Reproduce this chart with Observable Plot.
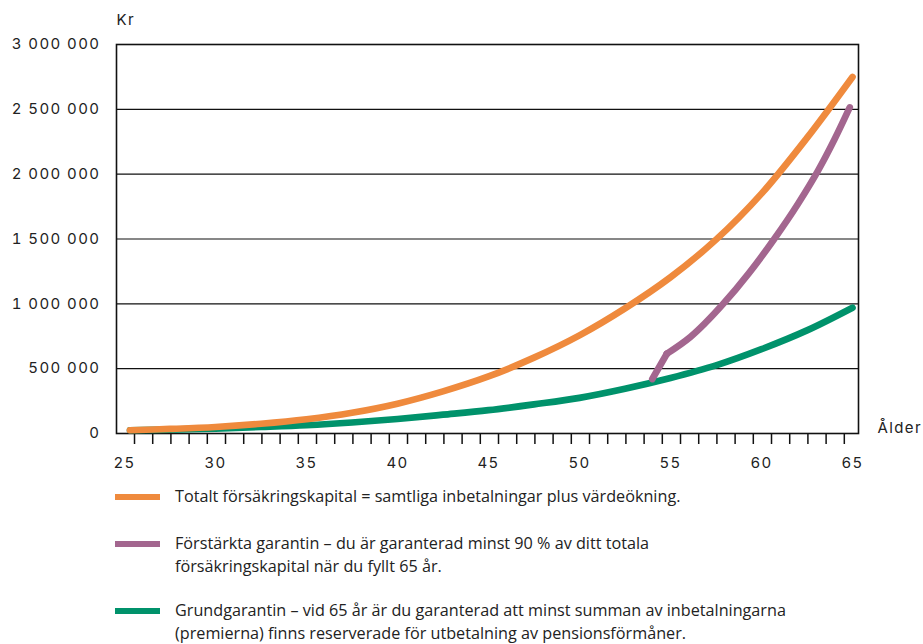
<!DOCTYPE html>
<html><head><meta charset="utf-8">
<script src="https://cdn.jsdelivr.net/npm/d3@7"></script>
<script src="https://cdn.jsdelivr.net/npm/@observablehq/plot@0.6"></script>
<style>
body{margin:0;background:#fff;}
#chart{position:relative;width:923px;}
.legend{font-family:"Open Sans","Noto Sans",sans-serif;font-size:16.2px;color:#222;line-height:23px;margin-top:5px;}
.row{display:flex;align-items:flex-start;}
.sw{width:45px;height:6px;margin:8.5px 15px 0 115px;flex:none;}
.row + .row{margin-top:24px;}
.row.last{margin-top:21px;}
</style></head>
<body><div id="chart"></div>
<script>
const ages = [25.3,27.5,30,32.5,35,37.5,40,42.5,45,47.5,50,52.5,55,57.5,60,62.5,65];
const totalKapital = [25000,35000,50000,75000,110000,160000,230000,325000,440000,585000,757000,965000,1205000,1495000,1850000,2280000,2750000];
const grundGaranti = [25000,30000,38000,50000,64000,85000,112000,145000,180000,225000,275000,345000,428000,525000,650000,795000,970000];
const forstarktAges = [54.0,54.8,56.1,57.9,59.3,60.7,62,63.1,64,64.85];
const forstarktGaranti = [420000,615000,745000,1000000,1235000,1500000,1770000,2025000,2265000,2515000];
const yTicks = [0,500000,1000000,1500000,2000000,2500000,3000000];
const xLabels = [25,30,35,40,45,50,55,60,65];
const xTickMarks = d3.range(25,65).map(a => a + 0.55);
const seriesNames = [
  "Totalt försäkringskapital = samtliga inbetalningar plus värdeökning.",
  "Förstärkta garantin – du är garanterad minst 90 % av ditt totala<br>försäkringskapital när du fyllt 65 år.",
  "Grundgarantin – vid 65 år är du garanterad att minst summan av inbetalningarna<br>(premierna) finns reserverade för utbetalning av pensionsförmåner."
];
const colors = ["#ef8a3d","#a3668f","#00926b"];

const total = ages.map((a,i)=>({age:a, v: totalKapital[i]}));
const grund = ages.map((a,i)=>({age:a, v: grundGaranti[i]}));
const forst = forstarktAges.map((a,i)=>({age:a, v: forstarktGaranti[i]}));
const forstStart = forst.slice(0,2);
const forstRest = forst.slice(1);

const fmt = v => d3.format(",")(v).replace(/,/g," ");

const plot = Plot.plot({
  width: 923, height: 480,
  marginLeft: 116, marginRight: 65, marginTop: 44, marginBottom: 47,
  style: {fontFamily: "Inter, Lato, sans-serif", fontSize: "15px", color: "#222", letterSpacing: "1.4px"},
  x: {domain: [25,65], range: [124,852]},
  y: {domain: [0,3000000]},
  marks: [
    Plot.ruleY(yTicks, {stroke: "#111", strokeWidth: 1.2}),
    Plot.frame({stroke: "#111", strokeWidth: 1.6}),
    Plot.axisY(yTicks, {tickSize: 0, tickPadding: 16, tickFormat: fmt, label: null}),
    Plot.axisX(xTickMarks, {tickSize: 11, tickFormat: () => "", stroke: "#111", strokeWidth: 1.5, label: null}),
    Plot.axisX(xLabels, {tickSize: 0, tickPadding: 24, label: null}),
    Plot.line(grund, {x: "age", y: "v", stroke: colors[2], strokeWidth: 6.7, curve: "catmull-rom"}),
    Plot.line(total, {x: "age", y: "v", stroke: colors[0], strokeWidth: 6.7, curve: "catmull-rom"}),
    Plot.line(forstStart, {x: "age", y: "v", stroke: colors[1], strokeWidth: 6.7, curve: "linear"}),
    Plot.line(forstRest, {x: "age", y: "v", stroke: colors[1], strokeWidth: 6.7, curve: "monotone-x"}),
    Plot.dot(forst.slice(1,2), {x: "age", y: "v", fill: colors[1], r: 3.3}),
    Plot.text(["Kr"], {frameAnchor: "top-left", dy: -30, dx: 0, textAnchor: "start"}),
    Plot.text(["Ålder"], {frameAnchor: "bottom-right", dx: 19, dy: -1, textAnchor: "start", letterSpacing: "1px"})
  ]
});
const chart = document.getElementById("chart");
chart.appendChild(plot);
const leg = document.createElement("div");
leg.className = "legend";
leg.innerHTML = seriesNames.map((t,i)=>`<div class="row${i===2?' last':''}"><span class="sw" style="background:${colors[i]}"></span><span>${t}</span></div>`).join("");
chart.appendChild(leg);
</script></body></html>
